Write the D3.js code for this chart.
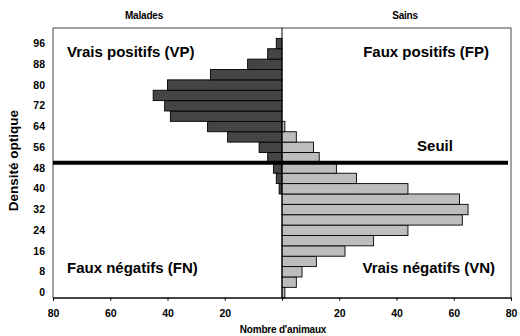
<!DOCTYPE html>
<html>
<head>
<meta charset="utf-8">
<style>
  body { margin: 0; background: #fff; }
  text { font-family: "Liberation Sans", Arial, sans-serif; font-weight: bold; fill: #000; }
</style>
</head>
<body>
<svg width="520" height="336"></svg>
<script src="https://d3js.org/d3.v7.min.js"></script>
<script>

// Classes de densité optique (bas vers haut)
var densite = [0, 4, 8, 12, 16, 20, 24, 28, 32, 36, 40, 44, 48, 52, 56, 60, 64, 68, 72, 76, 80, 84, 88, 92, 96, 100];
var malades = [0, 0, 0, 0, 0, 0, 0, 0, 0, 0, 1, 2, 3, 5, 8, 19, 26, 39, 41, 45, 40, 25, 12, 5, 2, 0];
var sains   = [1, 5, 7, 12, 22, 32, 44, 63, 65, 62, 44, 26, 19, 13, 11, 5, 1, 0, 0, 0, 0, 0, 0, 0, 0, 0];
var yLabels = [0, 8, 16, 24, 32, 40, 48, 56, 64, 72, 80, 88, 96];
var xTicks = [-80, -60, -40, -20, 0, 20, 40, 60, 80];

var svg = d3.select("svg"),
    pLeft = 53, pRight = 511, pTop = 28, pBottom = 297.7;

var x = d3.scaleLinear().domain([-80, 80]).range([pLeft, pRight]);
var y = d3.scaleBand().domain(densite).range([pBottom, pTop]).padding(0);

// cadre
svg.append("rect")
    .attr("x", pLeft).attr("y", pTop)
    .attr("width", pRight - pLeft).attr("height", pBottom - pTop)
    .attr("fill", "none").attr("stroke", "#444").attr("stroke-width", 1);

// barres malades (à gauche)
svg.append("g").selectAll("rect")
  .data(densite.map(function(d, i) { return {d: d, v: malades[i]}; }).filter(function(e) { return e.v > 0; }))
  .enter().append("rect")
    .attr("x", function(e) { return x(-e.v); })
    .attr("y", function(e) { return y(e.d); })
    .attr("width", function(e) { return x(0) - x(-e.v); })
    .attr("height", y.bandwidth())
    .attr("fill", "#454545")
    .attr("stroke", "#000")
    .attr("stroke-width", 0.9);

// barres sains (à droite)
svg.append("g").selectAll("rect")
  .data(densite.map(function(d, i) { return {d: d, v: sains[i]}; }).filter(function(e) { return e.v > 0; }))
  .enter().append("rect")
    .attr("x", x(0))
    .attr("y", function(e) { return y(e.d); })
    .attr("width", function(e) { return x(e.v) - x(0); })
    .attr("height", y.bandwidth())
    .attr("fill", "#bdbdbd")
    .attr("stroke", "#000")
    .attr("stroke-width", 0.9);

// axe vertical central
svg.append("line")
    .attr("x1", x(0)).attr("x2", x(0))
    .attr("y1", pTop).attr("y2", pBottom)
    .attr("stroke", "#000").attr("stroke-width", 1);

// axe des x
var xAxis = d3.axisBottom(x)
    .tickValues(xTicks)
    .tickSize(3)
    .tickFormat(function(d) { return d === 0 ? "" : Math.abs(d); });
var gx = svg.append("g")
    .attr("transform", "translate(0," + pBottom + ")")
    .call(xAxis);
gx.select(".domain").attr("stroke", "#000");
gx.selectAll(".tick line").attr("stroke", "#000");
gx.selectAll(".tick text")
    .attr("y", 12)
    .style("font-size", "10.5px")
    .style("font-family", "Liberation Sans, Arial, sans-serif")
    .style("font-weight", "bold");

// étiquettes y
svg.append("g").selectAll("text")
  .data(yLabels)
  .enter().append("text")
    .attr("x", 45)
    .attr("y", function(d) { return y(d) + y.bandwidth() / 2; })
    .attr("dy", "0.35em")
    .attr("text-anchor", "end")
    .style("font-size", "10.5px")
    .text(function(d) { return d; });

// seuil (entre les classes 48 et 52)
var ySeuil = y(48);
svg.append("line")
    .attr("x1", pLeft).attr("x2", 508)
    .attr("y1", ySeuil).attr("y2", ySeuil)
    .attr("stroke", "#000").attr("stroke-width", 4);

// titres
svg.append("text").attr("x", 144).attr("y", 19).attr("text-anchor", "middle")
    .style("font-size", "10px").style("letter-spacing", "-0.2px").text("Malades");
svg.append("text").attr("x", 405).attr("y", 19).attr("text-anchor", "middle")
    .style("font-size", "10px").style("letter-spacing", "-0.2px").text("Sains");
svg.append("text").attr("x", 283).attr("y", 333).attr("text-anchor", "middle")
    .style("font-size", "10px").style("letter-spacing", "-0.2px").text("Nombre d'animaux");
svg.append("text")
    .attr("transform", "translate(18,160.7) rotate(-90)")
    .attr("text-anchor", "middle")
    .style("font-size", "13.5px")
    .text("Densité optique");

// quadrants
var q = [
  {t: "Vrais positifs (VP)", x: 67, y: 57, a: "start"},
  {t: "Faux positifs (FP)", x: 489, y: 57, a: "end"},
  {t: "Seuil", x: 435, y: 151, a: "middle"},
  {t: "Faux négatifs (FN)", x: 67, y: 273, a: "start"},
  {t: "Vrais négatifs (VN)", x: 495, y: 273, a: "end"}
];
svg.append("g").selectAll("text")
  .data(q)
  .enter().append("text")
    .attr("x", function(d) { return d.x; })
    .attr("y", function(d) { return d.y; })
    .attr("text-anchor", function(d) { return d.a; })
    .style("font-size", "15px")
    .text(function(d) { return d.t; });

</script>
</body>
</html>
